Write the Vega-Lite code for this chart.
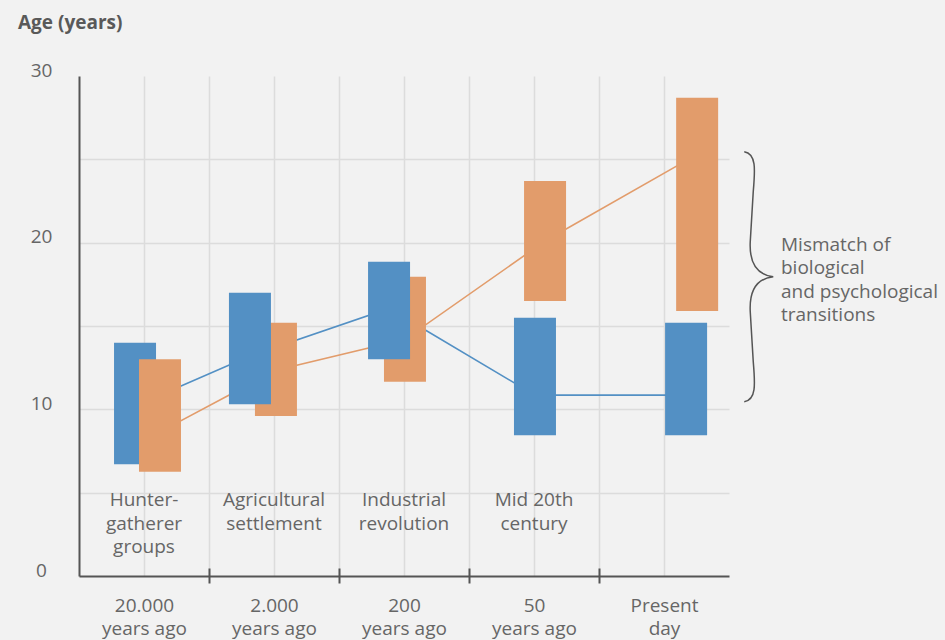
{
  "$schema": "https://vega.github.io/schema/vega-lite/v6.json",
  "width": 650,
  "height": 500,
  "autosize": "none",
  "padding": {"left": 79, "top": 76, "right": 216, "bottom": 64},
  "background": "#f2f2f2",
  "config": {
    "font": "Open Sans",
    "view": {"stroke": null},
    "axis": {"labelFont": "Open Sans", "titleFont": "Open Sans"}
  },
  "datasets": {
    "ranges": [
      {"era": "Hunter-gatherer groups", "series": "Menarche", "t": 0.862, "lo": 6.7, "hi": 14.0, "mean": 10.2},
      {"era": "Hunter-gatherer groups", "series": "Psychosocial maturation", "t": 1.246, "lo": 6.25, "hi": 13.0, "mean": 8.65},
      {"era": "Agricultural settlement", "series": "Psychosocial maturation", "t": 3.03, "lo": 9.6, "hi": 15.2, "mean": 12.35},
      {"era": "Agricultural settlement", "series": "Menarche", "t": 2.63, "lo": 10.3, "hi": 17.0, "mean": 13.2},
      {"era": "Industrial revolution", "series": "Psychosocial maturation", "t": 5.015, "lo": 11.65, "hi": 17.95, "mean": 14.2},
      {"era": "Industrial revolution", "series": "Menarche", "t": 4.77, "lo": 13.0, "hi": 18.85, "mean": 16.05},
      {"era": "Mid 20th century", "series": "Menarche", "t": 7.015, "lo": 8.45, "hi": 15.5, "mean": 10.85},
      {"era": "Mid 20th century", "series": "Psychosocial maturation", "t": 7.17, "lo": 16.5, "hi": 23.7, "mean": 20.1},
      {"era": "Present day", "series": "Menarche", "t": 9.34, "lo": 8.45, "hi": 15.2, "mean": 10.85},
      {"era": "Present day", "series": "Psychosocial maturation", "t": 9.51, "lo": 15.9, "hi": 28.7, "mean": 25.3}
    ],
    "eras": [
      {"t": 1, "name": "Hunter-\ngatherer\ngroups"},
      {"t": 3, "name": "Agricultural\nsettlement"},
      {"t": 5, "name": "Industrial\nrevolution"},
      {"t": 7, "name": "Mid 20th\ncentury"}
    ],
    "notes": [
      {"note": "Mismatch of\nbiological\nand psychological\ntransitions"}
    ]
  },
  "layer": [
    {
      "data": {"name": "ranges"},
      "mark": {"type": "line", "strokeWidth": 1.6},
      "encoding": {
        "x": {
          "field": "t", "type": "quantitative",
          "scale": {"domain": [0, 10], "nice": false, "zero": false, "padding": 0},
          "axis": {"orient": "bottom", "values": [1, 2, 3, 4, 5, 6, 7, 8, 9], "grid": true, "gridColor": "#dcdcdc", "gridWidth": 1.5, "ticks": false, "labels": false, "domain": false, "title": null}
        },
        "y": {
          "field": "mean", "type": "quantitative",
          "scale": {"domain": [0, 30], "nice": false, "padding": 0},
          "axis": {"orient": "left", "values": [5, 10, 15, 20, 25], "grid": true, "gridColor": "#dcdcdc", "gridWidth": 1.5, "ticks": false, "labels": false, "domain": false, "title": null}
        },
        "stroke": {
          "field": "series", "type": "nominal",
          "scale": {"domain": ["Menarche", "Psychosocial maturation"], "range": ["#5390c4", "#e29c6b"]},
          "legend": null
        },
        "detail": {"field": "series"}
      }
    },
    {
      "data": {"name": "ranges"},
      "mark": {"type": "bar", "size": 42, "opacity": 1},
      "encoding": {
        "x": {
          "field": "t", "type": "quantitative",
          "axis": {
            "orient": "bottom", "values": [1, 3, 5, 7, 9],
            "labelExpr": "datum.value == 1 ? ['20.000', 'years ago'] : datum.value == 3 ? ['2.000', 'years ago'] : datum.value == 5 ? ['200', 'years ago'] : datum.value == 7 ? ['50', 'years ago'] : ['Present', 'day']",
            "grid": false, "ticks": false, "tickSize": 0,
            "domain": true, "domainColor": "#555555", "domainWidth": 2,
            "labelPadding": 35, "labelBaseline": "alphabetic", "labelFontSize": 19, "labelColor": "#666666",
            "labelLineHeight": 23, "labelOverlap": false, "labelFlush": false, "title": null
          }
        },
        "y": {
          "field": "lo", "type": "quantitative",
          "axis": {
            "orient": "left", "values": [0, 10, 20, 30],
            "grid": false, "ticks": false, "tickSize": 0,
            "domain": true, "domainColor": "#555555", "domainWidth": 2,
            "labelAlign": "center", "labelBaseline": "alphabetic", "labelPadding": 38,
            "labelFontSize": 19, "labelColor": "#666666", "labelOverlap": false,
            "title": "Age (years)", "titleAngle": 0, "titleAlign": "left", "titleBaseline": "alphabetic",
            "titleX": -61.5, "titleY": -47.5, "titleFontSize": 19, "titleFontWeight": "bold", "titleColor": "#595959"
          }
        },
        "y2": {"field": "hi"},
        "color": {
          "field": "series", "type": "nominal",
          "scale": {"domain": ["Menarche", "Psychosocial maturation"], "range": ["#5390c4", "#e29c6b"]},
          "legend": {
            "orient": "none", "legendX": 26, "legendY": 1, "title": null, "padding": 0,
            "symbolType": "M-1,-0.577H1V0.577H-1Z", "symbolSize": 676, "symbolStrokeWidth": 0, "symbolOpacity": 1,
            "labelFontSize": 19, "labelColor": "#666666", "labelOffset": 12, "rowPadding": 0
          }
        }
      }
    },
    {
      "data": {"name": "eras"},
      "mark": {"type": "text", "align": "center", "baseline": "top", "fontSize": 19, "lineHeight": 23.5, "lineBreak": "\n", "color": "#666666", "dy": -1.5},
      "encoding": {
        "x": {
          "field": "t", "type": "quantitative",
          "axis": {"orient": "bottom", "values": [2, 4, 6, 8], "labels": false, "domain": false, "grid": false, "ticks": true, "tickSize": 15, "tickWidth": 2, "tickColor": "#555555", "offset": -8, "title": null}
        },
        "y": {"datum": 5, "type": "quantitative", "axis": null},
        "text": {"field": "name"}
      }
    },
    {
      "data": {"name": "notes"},
      "mark": {
        "type": "point", "filled": false, "opacity": 1, "stroke": "#555555", "strokeWidth": 1.5, "size": 62500,
        "shape": "M-0.112,-1C-0.016,-0.984,-0.024,-0.864,-0.04,-0.68L-0.064,-0.28C-0.072,-0.12,-0.016,-0.016,0.12,0C-0.016,0.016,-0.072,0.12,-0.064,0.28L-0.04,0.68C-0.024,0.864,-0.016,0.984,-0.112,1"
      },
      "encoding": {
        "x": {"datum": 10.45, "type": "quantitative", "axis": null},
        "y": {"datum": 17.96, "type": "quantitative", "axis": null}
      }
    },
    {
      "data": {"name": "notes"},
      "mark": {"type": "text", "align": "left", "baseline": "alphabetic", "fontSize": 19, "lineHeight": 23.5, "lineBreak": "\n", "color": "#666666"},
      "encoding": {
        "x": {"datum": 10.8, "type": "quantitative", "axis": null},
        "y": {"datum": 19.52, "type": "quantitative", "axis": null},
        "text": {"field": "note"}
      }
    }
  ],
  "resolve": {"axis": {"x": "independent", "y": "independent"}}
}
